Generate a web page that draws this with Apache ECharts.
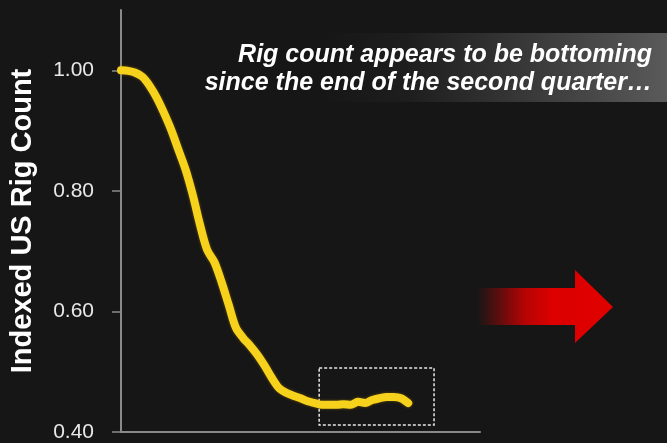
<!DOCTYPE html>
<html>
<head>
<meta charset="utf-8">
<script src="https://cdn.jsdelivr.net/npm/echarts@6/dist/echarts.min.js"></script>
<style>
html,body{margin:0;padding:0;background:#161616;}
#chart{width:667px;height:443px;}
</style>
</head>
<body>
<div id="chart"></div>
<script>
// Week index since start of period
var weeks = [0,1,2,3,4,5,6,7,8,9,10,11,12,13,14,15,16,17,18,19,20,21,22,23,24,25,26,27,28,29,30,31,32,33,34,35,36,37,38,39,40];
// Indexed US rig count (start = 1.00)
var rigIndex = [1.000,0.999,0.996,0.989,0.974,0.954,0.929,0.901,0.868,0.835,0.793,0.744,0.702,0.682,0.649,0.611,0.573,0.556,0.543,0.528,0.510,0.490,0.473,0.465,0.460,0.456,0.451,0.448,0.445,0.445,0.445,0.446,0.445,0.450,0.448,0.453,0.456,0.458,0.458,0.456,0.448];
var yTicks = [0.4, 0.6, 0.8, 1.0];
var yTitle = 'Indexed US Rig Count';
var noteLines = ['Rig count appears to be bottoming', 'since the end of the second quarter\u2026'];
// highlighted region (data coordinates)
var boxWeeks = [27.6, 43.6];
var boxValues = [0.4116, 0.506];

var data = weeks.map(function(w, i){ return [w, rigIndex[i]]; });

var chart = echarts.init(document.getElementById('chart'), null, {renderer:'canvas'});
chart.setOption({
  backgroundColor: '#161616',
  animation: false,
  grid: {left: 120, right: 187, top: 10, bottom: 11},
  xAxis: {
    type: 'value', min: 0, max: 50,
    axisLine: {show: true, lineStyle: {color: '#8a8a8a', width: 2}},
    axisTick: {show: false}, axisLabel: {show: false}, splitLine: {show: false}
  },
  yAxis: {
    type: 'value', min: 0.4, max: 1.1,
    name: yTitle, nameLocation: 'middle', nameGap: 84,
    nameTextStyle: {color: '#ffffff', fontSize: 29, fontWeight: 'bold', fontFamily: 'Liberation Sans'},
    axisLine: {show: true, lineStyle: {color: '#8a8a8a', width: 2}},
    axisTick: {show: true, length: 9, customValues: yTicks, lineStyle: {color: '#8a8a8a', width: 1.5}},
    axisLabel: {customValues: yTicks, margin: 27, color: '#e8e8e8', fontSize: 21, fontFamily: 'Liberation Sans',
      formatter: function(v){ return v.toFixed(2); }},
    splitLine: {show: false}
  },
  series: [{
    type: 'line', data: data, showSymbol: false, smooth: 0.3,
    lineStyle: {color: '#f7d21c', width: 8, cap: 'round', join: 'round',
      shadowColor: 'rgba(160,120,0,0.6)', shadowBlur: 3},
    markArea: {
      silent: true,
      itemStyle: {color: 'rgba(0,0,0,0)', borderColor: '#e8e8e8', borderWidth: 1.5, borderType: [3, 2]},
      data: [[{coord: [boxWeeks[0], boxValues[1]]}, {coord: [boxWeeks[1], boxValues[0]]}]]
    }
  }],
  graphic: [
    {
      type: 'rect', z: 0, silent: true,
      shape: {x: 320, y: 33, width: 347, height: 69},
      style: {fill: new echarts.graphic.LinearGradient(0, 0, 1, 0, [
        {offset: 0, color: 'rgba(85,85,85,0)'},
        {offset: 0.25, color: 'rgba(85,85,85,0.12)'},
        {offset: 1, color: 'rgba(90,90,90,1)'}
      ])}
    },
    {
      type: 'text', z: 10, silent: true,
      style: {x: 652, y: 55, text: noteLines[0], textAlign: 'right', textVerticalAlign: 'middle',
        fill: '#ffffff', font: 'italic bold 25px "Liberation Sans"'}
    },
    {
      type: 'text', z: 10, silent: true,
      style: {x: 652, y: 83, text: noteLines[1], textAlign: 'right', textVerticalAlign: 'middle',
        fill: '#ffffff', font: 'italic bold 25px "Liberation Sans"'}
    },
    {
      type: 'polygon', z: 10, silent: true,
      shape: {points: [[477,288],[575,288],[575,270],[613,307],[575,343],[575,325],[477,325]]},
      style: {fill: new echarts.graphic.LinearGradient(0, 0, 1, 0, [
        {offset: 0, color: 'rgba(200,0,0,0)'},
        {offset: 0.35, color: 'rgba(210,0,0,0.85)'},
        {offset: 0.55, color: '#dc0000'},
        {offset: 1, color: '#e00000'}
      ])}
    }
  ]
});
</script>
</body>
</html>
